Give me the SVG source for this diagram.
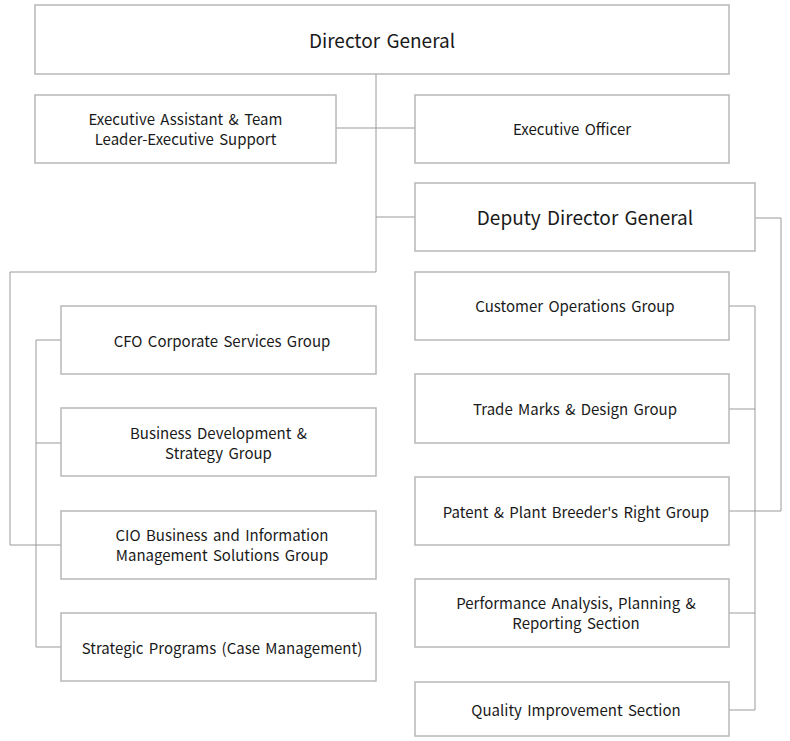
<svg xmlns="http://www.w3.org/2000/svg" width="790" height="741" viewBox="0 0 790 741">
<style>
.box{fill:#fff;stroke:#b8b8b8;stroke-width:1.5}
.ln{fill:none;stroke:#9a9a9a;stroke-width:1}
text{font-family:"Noto Sans CJK KR","Liberation Sans",sans-serif;fill:#1a1a1a;text-anchor:middle;font-size:15px;word-spacing:2px}
.big{font-size:19px}
</style>
<rect width="790" height="741" fill="#fff"/>
<g id="connectors">
<path class="ln" d="M376,74 V272 H10 V545 H61"/>
<path class="ln" d="M336,128 H415"/>
<path class="ln" d="M376,217 H415"/>
<path class="ln" d="M755,218 H781 V511 H729"/>
<path class="ln" d="M729,306 H755 V710 H729 M729,409 H755 M729,613 H755"/>
<path class="ln" d="M61,340 H36 V647 H61 M36,443 H61"/>
</g>
<g id="dg"><rect class="box" x="35" y="5" width="694" height="69"/><text class="big" x="382" y="48">Director General</text></g>
<g id="ea"><rect class="box" x="35" y="95" width="301" height="68"/><text x="185.5" y="125">Executive Assistant &amp; Team</text><text x="185.5" y="145">Leader-Executive Support</text></g>
<g id="eo"><rect class="box" x="415" y="95" width="314" height="68"/><text x="572" y="135">Executive Officer</text></g>
<g id="ddg"><rect class="box" x="415" y="183" width="340" height="68"/><text class="big" x="585" y="225">Deputy Director General</text></g>
<g id="cog"><rect class="box" x="415" y="272" width="314" height="68"/><text x="575" y="312">Customer Operations Group</text></g>
<g id="tmd"><rect class="box" x="415" y="374" width="314" height="69"/><text x="575" y="415">Trade Marks &amp; Design Group</text></g>
<g id="pbr"><rect class="box" x="415" y="477" width="314" height="68"/><text x="576" y="518">Patent &amp; Plant Breeder's Right Group</text></g>
<g id="pap"><rect class="box" x="415" y="579" width="314" height="68"/><text x="576" y="609">Performance Analysis, Planning &amp;</text><text x="576" y="629">Reporting Section</text></g>
<g id="qis"><rect class="box" x="415" y="682" width="314" height="54"/><text x="576" y="716">Quality Improvement Section</text></g>
<g id="cfo"><rect class="box" x="61" y="306" width="315" height="68"/><text x="222" y="347">CFO Corporate Services Group</text></g>
<g id="bds"><rect class="box" x="61" y="408" width="315" height="68"/><text x="218.5" y="439">Business Development &amp;</text><text x="218.5" y="459">Strategy Group</text></g>
<g id="cio"><rect class="box" x="61" y="511" width="315" height="68"/><text x="222" y="541">CIO Business and Information</text><text x="222" y="561">Management Solutions Group</text></g>
<g id="sp"><rect class="box" x="61" y="613" width="315" height="68"/><text x="222" y="654">Strategic Programs (Case Management)</text></g>
</svg>
